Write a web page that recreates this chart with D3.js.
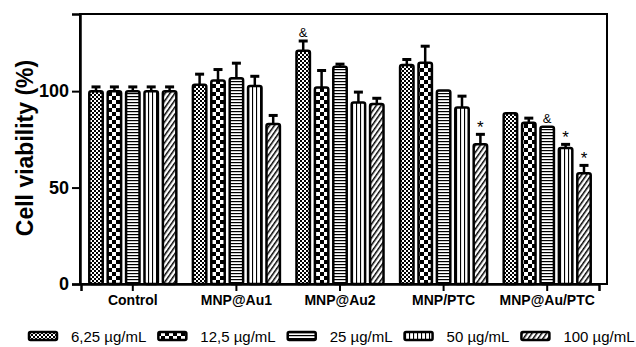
<!DOCTYPE html>
<html lang="en">
<head>
    <meta charset="UTF-8">
    <title>Cell viability</title>
    <style>
        body { margin: 0; padding: 0; background: white; }
        text { font-family: "Liberation Sans", Arial, sans-serif; fill: black; }
    </style>
</head>
<body>
    <svg id="chart" width="636" height="347"></svg>
    <script src="https://d3js.org/d3.v7.min.js"></script>
    <script>
        // data
        const groups = ["Control", "MNP@Au1", "MNP@Au2", "MNP/PTC", "MNP@Au/PTC"];
        const doses = ["6,25 \u00b5g/mL", "12,5 \u00b5g/mL", "25 \u00b5g/mL", "50 \u00b5g/mL", "100 \u00b5g/mL"];
        // one row per group, one value per dose
        const viability = [
            [100, 100, 100, 100, 100],
            [103.3, 105.5, 106.7, 102.7, 83],
            [121, 101.9, 112.6, 94.1, 93.3],
            [113.6, 114.7, 100.3, 91.5, 72.4],
            [88.6, 83.6, 81.5, 70.5, 57.4]
        ];
        const errors = [
            [2.2, 2.2, 2.2, 2.2, 2.2],
            [5.5, 5.7, 7.8, 5, 4.4],
            [5, 8.8, 1.4, 5.4, 3],
            [2.8, 8.6, 0, 5.9, 5.2],
            [0, 2.4, 0, 1.9, 4.1]
        ];
        // significance marks: [group index, dose index, symbol]
        const marks = [
            [2, 0, "&"],
            [3, 4, "*"],
            [4, 2, "&"],
            [4, 3, "*"],
            [4, 4, "*"]
        ];
        const yTicks = [0, 50, 100];

        const svg = d3.select("#chart");

        const plotLeft = 80, plotRight = 607, plotTop = 14, plotBottom = 284;

        const y = d3.scaleLinear().domain([0, 140]).range([plotBottom, plotTop]);
        const x0 = d3.scaleBand().domain(groups).range([81, 599]).paddingInner(0.16).paddingOuter(0.08);
        const x1 = d3.scaleBand().domain(d3.range(doses.length)).range([0, x0.bandwidth()]).paddingInner(0.27);

        // fill patterns, one per dose
        const defs = svg.append("defs");
        function pattern(id, w, h) {
            return defs.append("pattern").attr("id", id)
                .attr("patternUnits", "userSpaceOnUse")
                .attr("width", w).attr("height", h);
        }
        let p = pattern("p0", 4, 4);
        p.append("rect").attr("width", 4).attr("height", 4).attr("fill", "white");
        p.append("rect").attr("width", 2).attr("height", 2).attr("fill", "black");
        p.append("rect").attr("x", 2).attr("y", 2).attr("width", 2).attr("height", 2).attr("fill", "black");

        p = pattern("p1", 8, 8);
        p.append("rect").attr("width", 8).attr("height", 8).attr("fill", "white");
        p.append("rect").attr("width", 4).attr("height", 4).attr("fill", "black");
        p.append("rect").attr("x", 4).attr("y", 4).attr("width", 4).attr("height", 4).attr("fill", "black");

        p = pattern("p2", 3, 3);
        p.append("rect").attr("width", 3).attr("height", 3).attr("fill", "white");
        p.append("rect").attr("width", 3).attr("height", 1.2).attr("fill", "black");

        p = pattern("p3", 4, 4);
        p.append("rect").attr("width", 4).attr("height", 4).attr("fill", "white");
        p.append("rect").attr("width", 1.1).attr("height", 4).attr("fill", "black");

        p = pattern("p4", 4, 4).attr("patternTransform", "rotate(35)");
        p.append("rect").attr("width", 4).attr("height", 4).attr("fill", "white");
        p.append("rect").attr("width", 1.5).attr("height", 4).attr("fill", "black");

        // frame
        svg.append("rect")
            .attr("x", plotLeft).attr("y", plotTop)
            .attr("width", plotRight - plotLeft).attr("height", plotBottom - plotTop)
            .attr("fill", "none").attr("stroke", "black").attr("stroke-width", 2);

        // bars
        const rows = groups.map(function(g, i) {
            return viability[i].map(function(v, j) {
                return { g: g, gi: i, j: j, v: v, e: errors[i][j] };
            });
        }).flat();

        const bars = svg.append("g");
        bars.selectAll("g")
            .data(rows)
            .enter()
            .append("g")
            .each(function(d) {
                const gx = x0(d.g) + x1(d.j);
                const sel = d3.select(this);
                if (d.e > 0) {
                    const cx = gx + x1.bandwidth() / 2;
                    sel.append("line")
                        .attr("x1", cx).attr("x2", cx)
                        .attr("y1", y(d.v)).attr("y2", y(d.v + d.e))
                        .attr("stroke", "black").attr("stroke-width", 2.5);
                    sel.append("line")
                        .attr("x1", cx - 4.5).attr("x2", cx + 4.5)
                        .attr("y1", y(d.v + d.e)).attr("y2", y(d.v + d.e))
                        .attr("stroke", "black").attr("stroke-width", 3);
                }
                sel.append("rect")
                    .attr("x", gx)
                    .attr("y", y(d.v))
                    .attr("width", x1.bandwidth())
                    .attr("height", y(0) - y(d.v))
                    .attr("rx", 2)
                    .attr("fill", "url(#p" + d.j + ")")
                    .attr("stroke", "black")
                    .attr("stroke-width", 2.5);
            });

        // significance marks (* sits higher in its em box than &)
        svg.append("g").selectAll("text")
            .data(marks)
            .enter()
            .append("text")
            .attr("x", function(d) { return x0(groups[d[0]]) + x1(d[1]) + x1.bandwidth() / 2; })
            .attr("y", function(d) {
                const off = d[2] == "*" ? 1 : 4;
                return y(viability[d[0]][d[1]] + errors[d[0]][d[1]]) - off;
            })
            .attr("text-anchor", "middle")
            .attr("font-size", function(d) { return d[2] == "*" ? "17px" : "13px"; })
            .text(function(d) { return d[2]; });

        // axes
        const yAxis = svg.append("g")
            .attr("transform", "translate(" + plotLeft + ",0)")
            .call(d3.axisLeft(y).tickValues(yTicks).tickSize(8).tickPadding(3));
        yAxis.select(".domain").attr("stroke-width", 2.5);
        yAxis.selectAll(".tick line").attr("stroke-width", 2);
        yAxis.selectAll(".tick text")
            .attr("font-size", "18px").attr("font-weight", "bold")
            .attr("font-family", "Liberation Sans, Arial, sans-serif");

        const xAxis = svg.append("g")
            .attr("transform", "translate(0," + plotBottom + ")")
            .call(d3.axisBottom(x0).tickSize(7).tickPadding(4));
        xAxis.select(".domain").attr("stroke-width", 2.5);
        xAxis.selectAll(".tick line").attr("stroke-width", 2);
        xAxis.selectAll(".tick text")
            .attr("font-size", "14px").attr("font-weight", "bold")
            .attr("font-family", "Liberation Sans, Arial, sans-serif");

        svg.append("text")
            .attr("transform", "translate(33,148) rotate(-90)")
            .attr("text-anchor", "middle")
            .attr("font-size", "23px")
            .attr("font-weight", "bold")
            .text("Cell viability (%)");

        // legend, laid out by measured text width
        const legend = svg.append("g").attr("transform", "translate(29,332)");
        let lx = 0;
        doses.forEach(function(name, j) {
            legend.append("rect")
                .attr("x", lx).attr("y", 0)
                .attr("width", 28).attr("height", 8)
                .attr("rx", 1.5)
                .attr("fill", "url(#p" + j + ")")
                .attr("stroke", "black").attr("stroke-width", 2.5);
            const t = legend.append("text")
                .attr("x", lx + 42).attr("y", 10)
                .attr("font-size", "15px")
                .text(name);
            lx += 42 + t.node().getComputedTextLength() + 12;
        });
    </script>
</body>
</html>
